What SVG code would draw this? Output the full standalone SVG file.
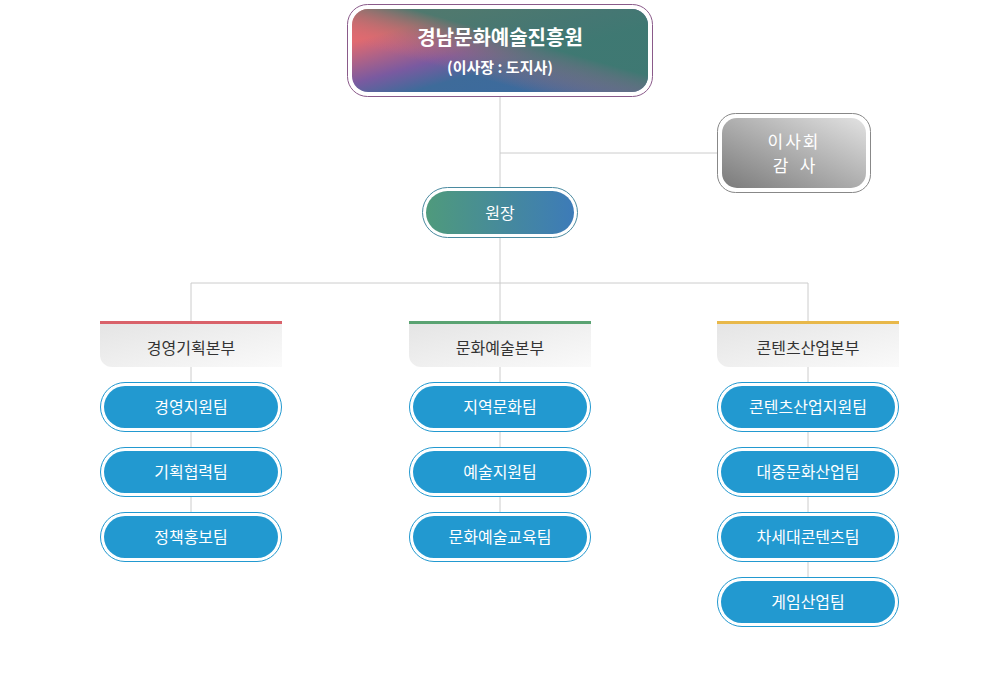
<svg xmlns="http://www.w3.org/2000/svg" width="1000" height="677" viewBox="0 0 1000 677">
<defs>
<linearGradient id="gTop" x1="0" y1="0" x2="1" y2="1"><stop offset="0.2" stop-color="#e06a70"/><stop offset="0.45" stop-color="#7a5aa0"/><stop offset="0.6" stop-color="#3e6b9a"/><stop offset="1" stop-color="#3a6aa0"/></linearGradient>
<linearGradient id="gTop2" x1="0" y1="1" x2="1" y2="0"><stop offset="0.3" stop-color="#e06a70" stop-opacity="0"/><stop offset="0.6" stop-color="#3f7a6e" stop-opacity="0.9"/></linearGradient>
<linearGradient id="gBoard" x1="0" y1="1" x2="1" y2="0"><stop offset="0" stop-color="#7a7a7a"/><stop offset="1" stop-color="#e2e2e2"/></linearGradient>
<linearGradient id="gHead" x1="0" y1="0" x2="1" y2="0"><stop offset="0" stop-color="#4f9a7c"/><stop offset="1" stop-color="#3d7bb8"/></linearGradient>
<linearGradient id="gDept" x1="0" y1="0" x2="1" y2="1"><stop offset="0" stop-color="#e4e4e4"/><stop offset="1" stop-color="#fafafa"/></linearGradient>
<style>
.t{font-family:"Noto Sans CJK KR","Noto Sans",sans-serif;text-anchor:middle}
.w{fill:#fff}
.pill{fill:#2299d0}
.po{fill:#fff;stroke:#2299d0;stroke-width:1}
.ln{stroke:#cccccc;stroke-width:1;fill:none}
</style>
</defs>
<g id="connectors" class="ln">
<path d="M500 97V187M500 153H717M500 238V283M191 283H808M191 283V321M500 283V321M808 283V321"/>
<path d="M191 367V512M500 367V512M808 367V577"/>
</g>
<g id="top">
<rect x="347.5" y="4.5" width="305" height="92" rx="20" fill="#fff" stroke="#8a5a8a"/>
<rect x="352" y="9" width="296" height="83" rx="16" fill="url(#gTop)"/>
<rect x="352" y="9" width="296" height="83" rx="16" fill="url(#gTop2)"/>
<text class="t w" x="500" y="45" font-size="20" font-weight="bold">경남문화예술진흥원</text>
<text class="t w" x="500" y="73" font-size="15" font-weight="bold">(이사장 : 도지사)</text>
</g>
<g id="board">
<rect x="717.5" y="113.5" width="153" height="79" rx="18" fill="#fff" stroke="#888"/>
<rect x="722" y="118" width="144" height="70" rx="15" fill="url(#gBoard)"/>
<text class="t w" x="794" y="148" font-size="17" letter-spacing="2">이사회</text>
<text class="t w" x="794" y="172" font-size="17" xml:space="preserve">감   사</text>
</g>
<g id="head">
<rect x="422.5" y="187.5" width="155" height="50" rx="25" fill="#fff" stroke="#4a8aa0"/>
<rect x="426" y="191" width="148" height="43" rx="21.5" fill="url(#gHead)"/>
<text class="t w" x="500" y="219" font-size="16">원장</text>
</g>
<g id="depts">
<g id="d1"><path d="M100 321H282V367H112A12 12 0 0 1 100 355Z" fill="url(#gDept)"/><rect x="100" y="321" width="182" height="3" fill="#d9626a"/><text class="t" x="191" y="354" font-size="16" fill="#333">경영기획본부</text></g>
<g id="d2"><path d="M409 321H591V367H421A12 12 0 0 1 409 355Z" fill="url(#gDept)"/><rect x="409" y="321" width="182" height="3" fill="#5aa372"/><text class="t" x="500" y="354" font-size="16" fill="#333">문화예술본부</text></g>
<g id="d3"><path d="M717 321H899V367H729A12 12 0 0 1 717 355Z" fill="url(#gDept)"/><rect x="717" y="321" width="182" height="3" fill="#e8b84a"/><text class="t" x="808" y="354" font-size="16" fill="#333">콘텐츠산업본부</text></g>
</g>
<g id="teams">
<g id="t11"><rect class="po" x="100.5" y="382.5" width="181" height="49" rx="24.5"/><rect class="pill" x="104" y="386" width="174" height="42" rx="21"/><text class="t w" x="191" y="413" font-size="16">경영지원팀</text></g>
<g id="t12"><rect class="po" x="100.5" y="447.5" width="181" height="49" rx="24.5"/><rect class="pill" x="104" y="451" width="174" height="42" rx="21"/><text class="t w" x="191" y="478" font-size="16">기획협력팀</text></g>
<g id="t13"><rect class="po" x="100.5" y="512.5" width="181" height="49" rx="24.5"/><rect class="pill" x="104" y="516" width="174" height="42" rx="21"/><text class="t w" x="191" y="543" font-size="16">정책홍보팀</text></g>
<g id="t21"><rect class="po" x="409.5" y="382.5" width="181" height="49" rx="24.5"/><rect class="pill" x="413" y="386" width="174" height="42" rx="21"/><text class="t w" x="500" y="413" font-size="16">지역문화팀</text></g>
<g id="t22"><rect class="po" x="409.5" y="447.5" width="181" height="49" rx="24.5"/><rect class="pill" x="413" y="451" width="174" height="42" rx="21"/><text class="t w" x="500" y="478" font-size="16">예술지원팀</text></g>
<g id="t23"><rect class="po" x="409.5" y="512.5" width="181" height="49" rx="24.5"/><rect class="pill" x="413" y="516" width="174" height="42" rx="21"/><text class="t w" x="500" y="543" font-size="16">문화예술교육팀</text></g>
<g id="t31"><rect class="po" x="717.5" y="382.5" width="181" height="49" rx="24.5"/><rect class="pill" x="721" y="386" width="174" height="42" rx="21"/><text class="t w" x="808" y="413" font-size="16">콘텐츠산업지원팀</text></g>
<g id="t32"><rect class="po" x="717.5" y="447.5" width="181" height="49" rx="24.5"/><rect class="pill" x="721" y="451" width="174" height="42" rx="21"/><text class="t w" x="808" y="478" font-size="16">대중문화산업팀</text></g>
<g id="t33"><rect class="po" x="717.5" y="512.5" width="181" height="49" rx="24.5"/><rect class="pill" x="721" y="516" width="174" height="42" rx="21"/><text class="t w" x="808" y="543" font-size="16">차세대콘텐츠팀</text></g>
<g id="t34"><rect class="po" x="717.5" y="577.5" width="181" height="49" rx="24.5"/><rect class="pill" x="721" y="581" width="174" height="42" rx="21"/><text class="t w" x="808" y="608" font-size="16">게임산업팀</text></g>
</g>
</svg>
